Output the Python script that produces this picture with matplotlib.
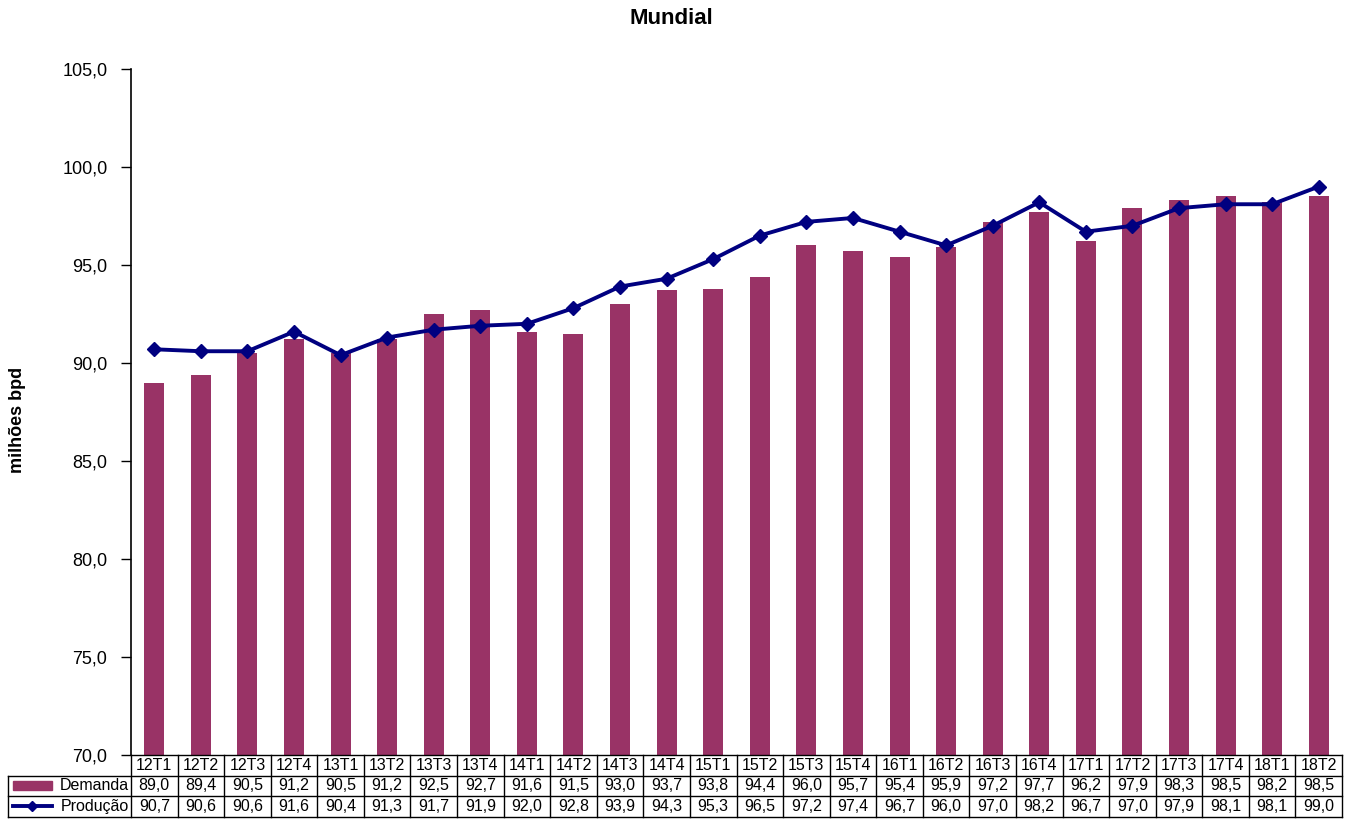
import numpy as np
import matplotlib.pyplot as plt
from matplotlib.transforms import blended_transform_factory
from matplotlib.lines import Line2D
from matplotlib.patches import Rectangle

plt.rcParams['font.family'] = ['Liberation Sans', 'DejaVu Sans']

trimestres = ["12T1", "12T2", "12T3", "12T4", "13T1", "13T2", "13T3", "13T4",
              "14T1", "14T2", "14T3", "14T4", "15T1", "15T2", "15T3", "15T4",
              "16T1", "16T2", "16T3", "16T4", "17T1", "17T2", "17T3", "17T4",
              "18T1", "18T2"]
demanda = [89.0, 89.4, 90.5, 91.2, 90.5, 91.2, 92.5, 92.7, 91.6, 91.5, 93.0, 93.7,
           93.8, 94.4, 96.0, 95.7, 95.4, 95.9, 97.2, 97.7, 96.2, 97.9, 98.3, 98.5,
           98.2, 98.5]
producao = [90.7, 90.6, 90.6, 91.6, 90.4, 91.3, 91.7, 91.9, 92.0, 92.8, 93.9, 94.3,
            95.3, 96.5, 97.2, 97.4, 96.7, 96.0, 97.0, 98.2, 96.7, 97.0, 97.9, 98.1,
            98.1, 99.0]

cor_barra = '#993366'
cor_linha = '#000080'

W, H = 1363, 821
fig = plt.figure(figsize=(W / 100, H / 100), dpi=100)
ax = fig.add_axes([131 / W, (H - 755) / H, (1342 - 131) / W, (755 - 69) / H])

x = np.arange(len(trimestres))
ax.bar(x, demanda, width=0.43, color=cor_barra, zorder=2)
ax.plot(x, producao, color=cor_linha, lw=2.8, marker='D', ms=7, zorder=3)

ax.set_xlim(-0.5, len(trimestres) - 0.5)
ax.set_ylim(70, 105)
ax.set_yticks(np.arange(70, 105.1, 5))
ax.set_yticklabels([f"{v:.1f}".replace('.', ',') for v in np.arange(70, 105.1, 5)],
                   fontsize=13)
ax.tick_params(axis='y', direction='out', length=7, width=1, pad=10)
ax.set_xticks([])
for s in ['top', 'right', 'bottom']:
    ax.spines[s].set_visible(False)
ax.spines['left'].set_linewidth(1.2)

fig.text(671 / W, 1 - 19 / H, "Mundial", ha='center', va='center',
         fontsize=16, fontweight='bold')
fig.text(18 / W, 1 - 420 / H, "milhões bpd", rotation=90, ha='center', va='center',
         fontsize=13, fontweight='bold')

# tabela de dados abaixo do eixo
row_h = 20.5 / 686
trans = blended_transform_factory(ax.transData, ax.transAxes)
lw = 1.0
y0 = 0.0
y1 = -row_h
y2 = -2 * row_h
y3 = -3 * row_h
x_left_label = (8 - 131) / (1342 - 131) * len(trimestres) - 0.5

def hline(xa, xb, y):
    ax.add_line(Line2D([xa, xb], [y, y], transform=trans, color='black', lw=lw,
                       clip_on=False))

def vline(xv, ya, yb):
    ax.add_line(Line2D([xv, xv], [ya, yb], transform=trans, color='black', lw=lw,
                       clip_on=False))

hline(-0.5, len(trimestres) - 0.5, y0)
hline(x_left_label, len(trimestres) - 0.5, y1)
hline(x_left_label, len(trimestres) - 0.5, y2)
hline(x_left_label, len(trimestres) - 0.5, y3)
for i in range(len(trimestres) + 1):
    vline(i - 0.5, y0, y3)
vline(x_left_label, y1, y3)

for i, lab in enumerate(trimestres):
    ax.text(i, (y0 + y1) / 2, lab, transform=trans, ha='center', va='center',
            fontsize=11.5, clip_on=False)
    ax.text(i, (y1 + y2) / 2, f"{demanda[i]:.1f}".replace('.', ','), transform=trans,
            ha='center', va='center', fontsize=11.5, clip_on=False)
    ax.text(i, (y2 + y3) / 2, f"{producao[i]:.1f}".replace('.', ','), transform=trans,
            ha='center', va='center', fontsize=11.5, clip_on=False)

# chaves da legenda dentro da tabela
ax.add_patch(Rectangle((x_left_label + 0.1, y1 - row_h * 0.72), 0.85, row_h * 0.45,
                       transform=trans, color=cor_barra, clip_on=False))
ax.add_line(Line2D([x_left_label + 0.1, x_left_label + 0.95],
                   [(y2 + y3) / 2, (y2 + y3) / 2], transform=trans, color=cor_linha,
                   lw=2.8, clip_on=False))
ax.add_line(Line2D([x_left_label + 0.52], [(y2 + y3) / 2], transform=trans,
                   color=cor_linha, marker='D', ms=5, clip_on=False))
ax.text(-0.55, (y1 + y2) / 2, "Demanda", transform=trans, ha='right', va='center',
        fontsize=11.5, clip_on=False)
ax.text(-0.55, (y2 + y3) / 2, "Produção", transform=trans, ha='right', va='center',
        fontsize=11.5, clip_on=False)

fig.savefig('out.png', dpi=100)
